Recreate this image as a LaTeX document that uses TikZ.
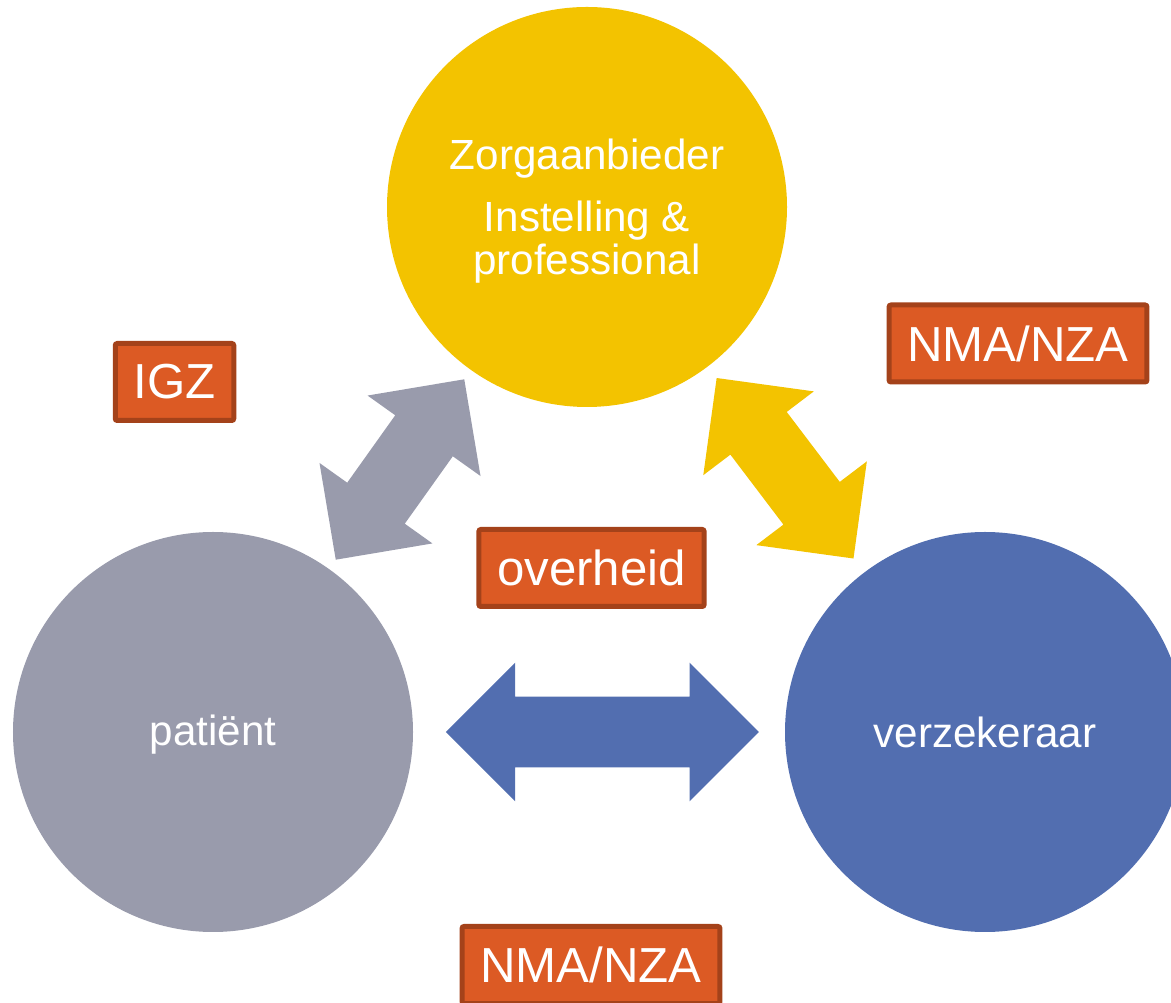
\documentclass[tikz,border=0pt]{standalone}
\usepackage{fontspec}
\setmainfont{Liberation Sans}
\usetikzlibrary{shapes.arrows}
\definecolor{zorggeel}{RGB}{243,195,0}
\definecolor{patgrijs}{RGB}{153,155,172}
\definecolor{verzblauw}{RGB}{82,110,176}
\definecolor{toezicht}{RGB}{220,90,36}
\definecolor{toezichtrand}{RGB}{164,66,26}

\begin{document}
\begin{tikzpicture}[
  rol/.style={circle, minimum size=2*\rad cm, inner sep=0pt, text=white,
    font=\fontsize{24}{24.5}\selectfont, align=center},
  pijl/.style={double arrow, double arrow tip angle=90,
    double arrow head extend=\kop cm, inner xsep=0pt, inner ysep=\schacht cm,
    minimum width=2*\schacht cm+2*\kop cm, sloped},
  instantie/.style={draw=toezichtrand, fill=toezicht, line width=0.1cm,
    rounded corners=0.04cm, text=white, font=\fontsize{28}{28}\selectfont,
    minimum height=1.54cm, inner xsep=0.365cm}
]
  \def\rad{4};
  \def\schacht{0.7};
  \def\kop{0.68};
  \def\bgx{23.42};
  \def\bgy{20.04};
  \useasboundingbox (0,0) rectangle (\bgx,\bgy);
  \node[rol, fill=zorggeel] (zorg) at (11.74,15.9)
    {\rule{0pt}{22pt}Zorgaanbieder\\[11pt]Instelling \&\\professional};
  \node[rol, fill=patgrijs] (pat) at (4.26,5.4) {\rule{0pt}{20pt}patiënt};
  \node[rol, fill=verzblauw] (verz) at (19.7,5.4) {verzekeraar};
  %pijlen
  \path (pat) -- node[pijl, fill=patgrijs, minimum height=4.43cm] (pijlpz) {} (zorg);
  \path (zorg) -- node[pijl, fill=zorggeel, minimum height=4.53cm, pos=0.494] (pijlzv) {} (verz);
  \path (pat) -- node[pijl, fill=verzblauw, minimum height=6.26cm, pos=0.509] (pijlpv) {} (verz);
  %toezicht
  \node[instantie] (igz) at (3.49,12.4) {IGZ};
  \node[instantie] (nmaboven) at (20.36,13.17) {NMA/NZA};
  \node[instantie] (overheid) at (11.83,8.68) {overheid};
  \node[instantie] (nmaonder) at (11.82,0.74) {NMA/NZA};
\end{tikzpicture}
\end{document}
